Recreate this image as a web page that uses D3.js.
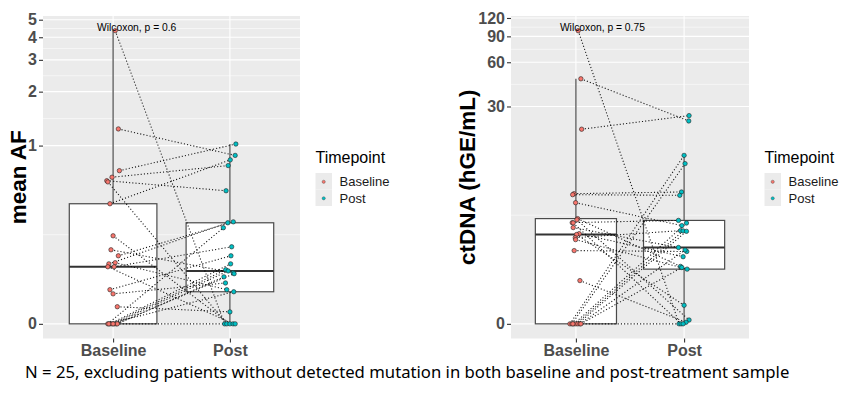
<!DOCTYPE html>
<html><head><meta charset="utf-8">
<script src="https://cdn.jsdelivr.net/npm/d3@7"></script>
<style>body{margin:0;background:#fff}svg{display:block}</style>
</head><body><svg id="c" width="864" height="393"></svg>
<script>
// ---------- data ----------
const categories = ["Baseline", "Post"];
// mean AF per patient (paired)
const afBaseline = [4.35,1.24,0.72,0.66,0.63,0.62,0.46,0.287,0.228,0.205,0.18,0.176,0.166,0.166,0.094,0.082,0.046,0,0,0,0,0,0,0,0];
const afPost     = [0,0.88,1.02,0.77,0.55,0,0.83,0,0.146,0.355,0.094,0.35,0,0.24,0.205,0.114,0.032,0.325,0.176,0.156,0.152,0.143,0.133,0.088,0];
// horizontal jitter (fraction of category spacing)
const afBaseJitter = [0.018,0.045,0.054,-0.009,-0.054,-0.045,-0.027,0,-0.018,0.045,0.018,-0.036,-0.045,0.009,-0.027,0,0.036,-0.045,-0.027,-0.009,0.009,0.027,0.036,-0.036,0];
const afPostJitter = [-0.045,0.045,0.051,-0.015,-0.033,-0.027,0.003,0,0.029,0.029,-0.027,-0.018,0.027,0.015,0.009,-0.038,0,-0.056,0.006,-0.036,-0.015,0.036,-0.051,0.033,0.045];
// ctDNA (hGE/mL) per patient (paired)
const dnaBaseline = [98.4,46.3,21.0,7.54,7.42,6.51,5.0,4.9,4.67,4.65,4.29,3.86,3.80,3.59,3.47,2.83,1.46,0,0,0,0,0,0,0,0];
const dnaPost     = [0,23.9,26.0,7.75,7.34,4.44,2.05,0.12,4.85,0,3.0,2.51,0.59,4.07,1.93,2.78,0.05,13.9,12.2,4.64,4.05,4.02,2.86,2.0,0];
const dnaBaseJitter = [0.021,0.046,0.053,-0.018,-0.030,-0.003,0.016,0.009,-0.034,-0.025,-0.025,0.030,0.006,-0.006,-0.003,-0.016,0.037,-0.055,-0.037,-0.018,0,0.018,0.037,0.046,-0.028];
const dnaPostJitter = [-0.046,0.043,0.046,-0.024,-0.040,-0.021,-0.033,0.046,-0.052,-0.028,-0.052,-0.009,0,-0.033,0.028,0.025,0.018,0,0.009,0.022,-0.009,0.022,0.009,-0.021,-0.009];
const afTicks = [0, 1, 2, 3, 4, 5];
const dnaTicks = [0, 30, 60, 90, 120];
const pLabels = ["Wilcoxon, p = 0.6", "Wilcoxon, p = 0.75"];
const yTitles = ["mean AF", "ctDNA (hGE/mL)"];
const legendTitle = "Timepoint";
const caption = "N = 25, excluding patients without detected mutation in both baseline and post-treatment sample";

// ---------- styles ----------
const colors = {Baseline: "#F8766D", Post: "#00BFC4"};
const svg = d3.select("#c");
const FONT = "'Liberation Sans', Arial, sans-serif";

function drawPanel(o) {
  const g = svg.append("g");
  const tr = v => Math.asinh(v / o.s);
  const all = o.base.concat(o.post).map(tr);
  const tmin = d3.min(all), tmax = d3.max(all), R = tmax - tmin;
  const yl = d3.scaleLinear().domain([tmin - 0.05 * R, tmax + 0.05 * R]).range([o.bottom, o.top]);
  const y = v => yl(tr(v));
  const x = d3.scalePoint().domain(categories).range([o.x0, o.x1]).padding(0.6);
  const step = x.step();

  // panel bg
  g.append("rect").attr("x", o.x0).attr("y", o.top).attr("width", o.x1 - o.x0)
    .attr("height", o.bottom - o.top).attr("fill", "#EBEBEB");
  // minor grid (midpoints in transformed space)
  const tt = o.ticks.map(tr);
  for (let i = 0; i < tt.length - 1; i++) {
    const m = (tt[i] + tt[i + 1]) / 2;
    g.append("line").attr("x1", o.x0).attr("x2", o.x1).attr("y1", yl(m)).attr("y2", yl(m))
      .attr("stroke", "#fff").attr("stroke-width", 0.55);
  }
  o.ticks.forEach(t => {
    g.append("line").attr("x1", o.x0).attr("x2", o.x1).attr("y1", y(t)).attr("y2", y(t))
      .attr("stroke", "#fff").attr("stroke-width", 1.1);
  });
  categories.forEach(c => {
    g.append("line").attr("x1", x(c)).attr("x2", x(c)).attr("y1", o.top).attr("y2", o.bottom)
      .attr("stroke", "#fff").attr("stroke-width", 1.1);
  });

  // boxplots
  const groups = {Baseline: o.base, Post: o.post};
  categories.forEach(c => {
    const vals = groups[c].map(tr).sort(d3.ascending);
    const q1 = d3.quantile(vals, 0.25), med = d3.quantile(vals, 0.5), q3 = d3.quantile(vals, 0.75);
    const iqr = q3 - q1;
    const hi = d3.max(vals.filter(v => v <= q3 + 1.5 * iqr));
    const lo = d3.min(vals.filter(v => v >= q1 - 1.5 * iqr));
    const cx = x(c), hw = 0.375 * step;
    const col = "#4a4a4a";
    g.append("line").attr("x1", cx).attr("x2", cx).attr("y1", yl(q3)).attr("y2", yl(hi)).attr("stroke", col).attr("stroke-width", 1.2);
    g.append("line").attr("x1", cx).attr("x2", cx).attr("y1", yl(q1)).attr("y2", yl(lo)).attr("stroke", col).attr("stroke-width", 1.2);
    g.append("rect").attr("x", cx - hw).attr("y", yl(q3)).attr("width", 2 * hw).attr("height", yl(q1) - yl(q3))
      .attr("fill", "#fff").attr("stroke", col).attr("stroke-width", 1.2);
    g.append("line").attr("x1", cx - hw).attr("x2", cx + hw).attr("y1", yl(med)).attr("y2", yl(med))
      .attr("stroke", "#333").attr("stroke-width", 2);
  });

  // paired lines
  const bx = i => x("Baseline") + o.bj[i] * step;
  const px = i => x("Post") + o.pj[i] * step;
  o.base.forEach((b, i) => {
    g.append("line").attr("x1", bx(i)).attr("y1", y(b)).attr("x2", px(i)).attr("y2", y(o.post[i]))
      .attr("stroke", "#000").attr("stroke-width", 1.1).attr("stroke-dasharray", "1.1,2.1").attr("opacity", 0.9);
  });
  // points
  o.base.forEach((b, i) => {
    g.append("circle").attr("cx", bx(i)).attr("cy", y(b)).attr("r", 2.2)
      .attr("fill", colors.Baseline).attr("stroke", "#222").attr("stroke-width", 0.6);
  });
  o.post.forEach((p, i) => {
    g.append("circle").attr("cx", px(i)).attr("cy", y(p)).attr("r", 2.2)
      .attr("fill", colors.Post).attr("stroke", "#222").attr("stroke-width", 0.6);
  });

  // y axis
  const ay = g.append("g").attr("transform", `translate(${o.x0},0)`)
    .call(d3.axisLeft(yl).tickValues(o.ticks.map(tr)).tickFormat((d, i) => o.ticks[i]).tickSize(4).tickPadding(2));
  ay.select(".domain").remove();
  ay.selectAll("line").attr("stroke", "#333").attr("stroke-width", 1.1);
  ay.selectAll("text").attr("font-family", FONT).attr("font-size", 16).attr("font-weight", "bold").attr("fill", "#4D4D4D");
  // x axis
  const ax = g.append("g").attr("transform", `translate(0,${o.bottom})`)
    .call(d3.axisBottom(x).tickSize(4).tickPadding(2));
  ax.select(".domain").remove();
  ax.selectAll("line").attr("stroke", "#333").attr("stroke-width", 1.1);
  ax.selectAll("text").attr("font-family", FONT).attr("font-size", 16).attr("font-weight", "bold").attr("fill", "#4D4D4D");

  // y title
  g.append("text").attr("transform", `translate(${o.titleX},${(o.top + o.bottom) / 2}) rotate(-90)`)
    .attr("text-anchor", "middle").attr("font-family", FONT).attr("font-size", 22.5).attr("font-weight", "bold")
    .attr("fill", "#000").text(o.title);

  // p label
  g.append("text").attr("x", x("Baseline") - 16).attr("y", o.top + 14.5).attr("font-family", FONT)
    .attr("font-size", 10.3).attr("fill", "#000").text(o.pLabel);

  // legend
  const lx = o.x1 + 15.5;
  g.append("text").attr("x", lx).attr("y", 163).attr("font-family", FONT).attr("font-size", 16).attr("fill", "#000").text(legendTitle);
  categories.forEach((c, i) => {
    const ky = 173 + i * 16.5;
    g.append("rect").attr("x", lx).attr("y", ky).attr("width", 16.5).attr("height", 16.5).attr("fill", "#EBEBEB");
    g.append("circle").attr("cx", lx + 8.2).attr("cy", ky + 8.8).attr("r", 1.6)
      .attr("fill", colors[c]).attr("stroke", "#444").attr("stroke-width", 0.4);
    g.append("text").attr("x", lx + 24).attr("y", ky + 13.3).attr("font-family", FONT).attr("font-size", 13)
      .attr("fill", "#1a1a1a").text(c);
  });
}

drawPanel({x0: 43, x1: 300, top: 16, bottom: 338.5, s: 0.21, base: afBaseline, post: afPost,
  bj: afBaseJitter, pj: afPostJitter, ticks: afTicks, title: yTitles[0], titleX: 26, pLabel: pLabels[0]});
drawPanel({x0: 511, x1: 749, top: 16, bottom: 338.5, s: 2, base: dnaBaseline, post: dnaPost,
  bj: dnaBaseJitter, pj: dnaPostJitter, ticks: dnaTicks, title: yTitles[1], titleX: 475, pLabel: pLabels[1]});

// caption
const cap = svg.append("text").attr("x", 25).attr("y", 377.5).attr("font-family", "'Noto Sans', 'Open Sans', sans-serif")
  .attr("font-size", 16).attr("fill", "#000").text(caption);
const w = cap.node().getComputedTextLength();
cap.attr("font-size", 16 * 765 / w);
</script></body></html>
